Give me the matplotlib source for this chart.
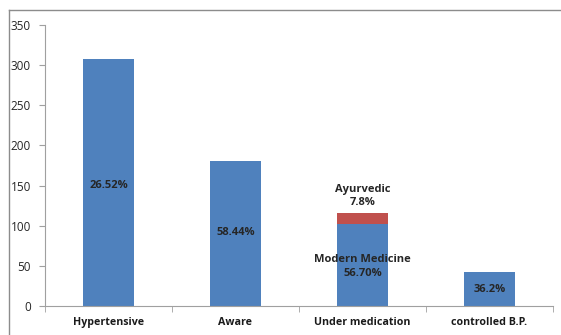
import matplotlib.pyplot as plt
from matplotlib.lines import Line2D

categories = ["Hypertensive", "Aware", "Under medication", "controlled B.P."]
main_values = [308, 180, 102, 42]
ayurvedic = [0, 0, 14, 0]
main_labels = ["26.52%", "58.44%", "Modern Medicine\n56.70%", "36.2%"]
label_y = [150, 91, 49, 20]

blue = "#4f81bd"
red = "#c0504d"

plt.rcParams['font.family'] = ['Open Sans', 'DejaVu Sans']

W, H = 561, 335
fig = plt.figure(figsize=(W / 100, H / 100), dpi=100)
ax = fig.add_axes([45 / W, 29 / H, (553 - 45) / W, (306 - 25) / H])

x = list(range(len(categories)))
ax.bar(x, main_values, width=0.4, color=blue, zorder=2)
ax.bar(x, ayurvedic, width=0.4, bottom=main_values, color=red, zorder=2)

for i in x:
    ax.text(i, label_y[i], main_labels[i], ha="center", va="center",
            fontsize=8, fontweight="bold", color="#262626", linespacing=1.3)
ax.text(2, 137, "Ayurvedic\n7.8%", ha="center", va="center",
        fontsize=8, fontweight="bold", color="#262626", linespacing=1.3)

ax.set_xlim(-0.5, 3.5)
ax.set_ylim(0, 350)
ax.set_yticks(range(0, 351, 50))
ax.set_xticks(x)
ax.set_xticklabels(categories, fontsize=7.7, fontweight="bold", color="#1a1a1a")
ax.tick_params(axis="x", length=0, pad=8)
ax.set_xticks([-0.5, 0.5, 1.5, 2.5, 3.5], minor=True)
ax.tick_params(axis="x", which="minor", length=4, direction="out", color="#a0a0a0")
ax.tick_params(axis="y", length=4, direction="out", color="#a0a0a0",
               labelsize=8.5, pad=6, labelcolor="#262626")
for s in ["top", "right"]:
    ax.spines[s].set_visible(False)
for s in ["left", "bottom"]:
    ax.spines[s].set_color("#a0a0a0")
    ax.spines[s].set_linewidth(0.8)

# outer chart border
fig.add_artist(Line2D([9 / W, 9 / W], [0, 1 - 10 / H], transform=fig.transFigure,
                      color="#8c8c8c", lw=1))
fig.add_artist(Line2D([9 / W, 1], [1 - 10 / H, 1 - 10 / H], transform=fig.transFigure,
                      color="#8c8c8c", lw=1))

fig.savefig("out.png", dpi=100)
